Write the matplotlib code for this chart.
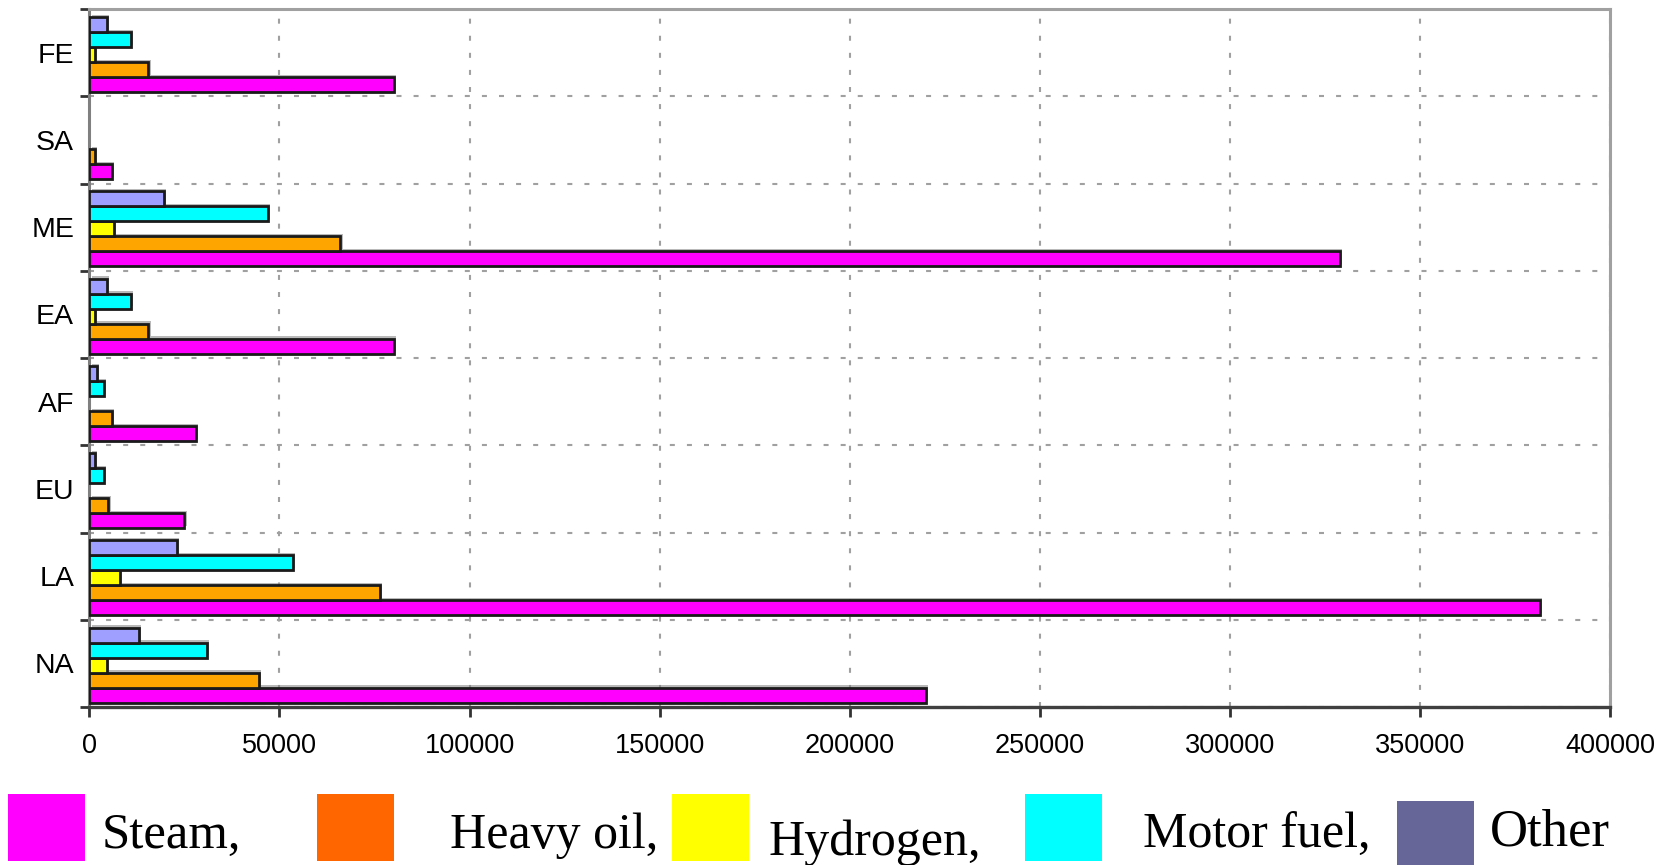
import numpy as np
import matplotlib
matplotlib.use("Agg")
import matplotlib.pyplot as plt
import matplotlib.patheffects as pe
from matplotlib.patches import Rectangle

# Regions, listed bottom to top
regions = ["NA", "LA", "EU", "AF", "EA", "ME", "SA", "FE"]

# Series values per region (same order as regions)
steam      = [220000, 381500, 25000, 28000, 80000, 329000, 6000, 80000]
heavy_oil  = [44500, 76500, 5000, 6000, 15500, 66000, 1500, 15500]
hydrogen   = [4500, 8000, 0, 0, 1500, 6500, 0, 1500]
motor_fuel = [31000, 53500, 3800, 3800, 11000, 47000, 0, 11000]
other      = [13000, 23000, 1500, 2000, 4500, 19500, 0, 4500]

series = [steam, heavy_oil, hydrogen, motor_fuel, other]
bar_colors = ["#FF00FF", "#FFA500", "#FFFF00", "#00FFFF", "#9F9FFF"]

legend_labels = ["Steam,", "Heavy oil,", "Hydrogen,", "Motor fuel,", "Other"]
legend_colors = ["#FF00FF", "#FF6600", "#FFFF00", "#00FFFF", "#666699"]

x_ticks = [0, 50000, 100000, 150000, 200000, 250000, 300000, 350000, 400000]

W, H = 1669, 865
fig = plt.figure(figsize=(W / 100, H / 100), dpi=100)
ax = fig.add_axes([89.4 / W, 1 - 707 / H, (1610 - 89.4) / W, (707 - 9) / H])

bar_h = 0.172
y = np.arange(len(regions))
shadow = [pe.SimplePatchShadow(offset=(1.6, 1.6), shadow_rgbFace="#808080", alpha=0.55),
          pe.Normal()]
for i, (vals, col) in enumerate(zip(series, bar_colors)):
    vals = np.asarray(vals, dtype=float)
    lw = np.where(vals > 0, 2.0, 0.0)
    bars = ax.barh(y + (i - 2) * bar_h - 0.02, vals, height=bar_h, color=col,
                   edgecolor="#1a1a1a", linewidth=lw, zorder=3)
    for b, v in zip(bars, vals):
        if v > 0:
            b.set_path_effects(shadow)

ax.set_xlim(0, 400000)
ax.set_ylim(-0.5, len(regions) - 0.5)

ax.set_xticks(x_ticks)
ax.set_xticklabels([str(t) for t in x_ticks], fontfamily="Liberation Sans", fontsize=19.5)
ax.set_yticks(y)
ax.set_yticklabels(regions, fontfamily="Liberation Sans", fontsize=20.5)
ax.set_yticks(np.arange(-0.5, len(regions)), minor=True)

ax.tick_params(axis="x", which="major", length=7, width=2, color="#333333", pad=12,
               direction="out")
ax.tick_params(axis="y", which="major", length=0, pad=11)
ax.tick_params(axis="y", which="minor", length=6.5, width=2, color="#333333",
               direction="out")

grid_style = dict(color="#a0a0a0", linewidth=1.5, linestyle=(0, (2.4, 5.8)))
ax.grid(axis="x", which="major", **grid_style)
ax.grid(axis="y", which="minor", **grid_style)
ax.set_axisbelow(True)

for side in ("top", "right"):
    ax.spines[side].set_color("#a0a0a0")
    ax.spines[side].set_linewidth(2.2)
ax.spines["left"].set_color("#808080")
ax.spines["left"].set_linewidth(2.2)
ax.spines["bottom"].set_color("#404040")
ax.spines["bottom"].set_linewidth(2.4)

# Legend row beneath the axes, laid out in pixel positions
square_pos = [(8.3, 794.3), (317, 794.3), (671.7, 794.3), (1025, 794.3), (1396.7, 800.7)]
square_size = (77, 67)
text_pos = [(101.7, 848.3), (450, 848.3), (768.3, 855), (1143.3, 848.3), (1490, 845)]
text_size = [36.5, 36, 36, 36, 38]

for (sx, sy), col in zip(square_pos, legend_colors):
    fig.add_artist(Rectangle((sx / W, 1 - (sy + square_size[1]) / H),
                             square_size[0] / W, square_size[1] / H,
                             transform=fig.transFigure, facecolor=col,
                             edgecolor="none"))
for (tx, ty), lab, fs in zip(text_pos, legend_labels, text_size):
    fig.text(tx / W, 1 - ty / H, lab, fontfamily="Liberation Serif", fontsize=fs,
             ha="left", va="baseline", color="black")

fig.savefig("out.png", dpi=100, facecolor="white")
